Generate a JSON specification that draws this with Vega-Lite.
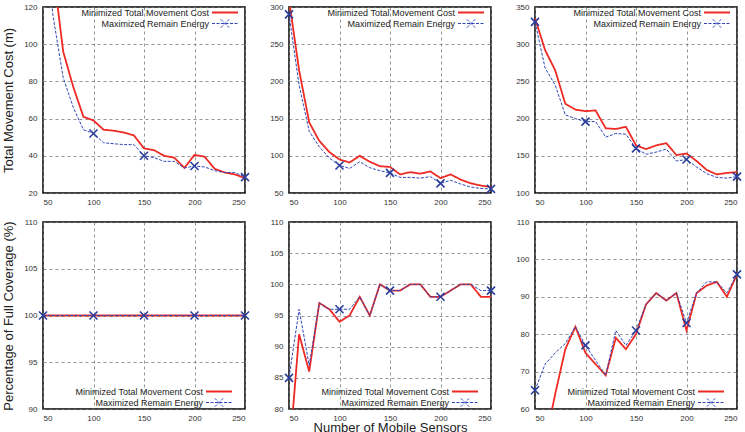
{
  "$schema": "https://vega.github.io/schema/vega-lite/v6.json",
  "background": "white",
  "padding": {"left": 1, "top": 2, "right": 5, "bottom": 0},
  "bounds": "flush",
  "columns": 3,
  "spacing": {"row": 29, "column": 44},
  "datasets": {
    "p1": [
      {"n": 50, "Minimized Total Movement Cost": 200, "Maximized Remain Energy": 160},
      {"n": 60, "Minimized Total Movement Cost": 140, "Maximized Remain Energy": 115},
      {"n": 70, "Minimized Total Movement Cost": 96, "Maximized Remain Energy": 82},
      {"n": 80, "Minimized Total Movement Cost": 77, "Maximized Remain Energy": 66},
      {"n": 90, "Minimized Total Movement Cost": 61, "Maximized Remain Energy": 54},
      {"n": 100, "Minimized Total Movement Cost": 59, "Maximized Remain Energy": 52},
      {"n": 110, "Minimized Total Movement Cost": 54, "Maximized Remain Energy": 47},
      {"n": 120, "Minimized Total Movement Cost": 53.5, "Maximized Remain Energy": 46.5},
      {"n": 130, "Minimized Total Movement Cost": 52.5, "Maximized Remain Energy": 46},
      {"n": 140, "Minimized Total Movement Cost": 51, "Maximized Remain Energy": 46},
      {"n": 150, "Minimized Total Movement Cost": 44, "Maximized Remain Energy": 40},
      {"n": 160, "Minimized Total Movement Cost": 43, "Maximized Remain Energy": 39},
      {"n": 170, "Minimized Total Movement Cost": 40, "Maximized Remain Energy": 37},
      {"n": 180, "Minimized Total Movement Cost": 39, "Maximized Remain Energy": 37},
      {"n": 190, "Minimized Total Movement Cost": 33.5, "Maximized Remain Energy": 33.5},
      {"n": 200, "Minimized Total Movement Cost": 40.5, "Maximized Remain Energy": 34.5},
      {"n": 210, "Minimized Total Movement Cost": 39.5, "Maximized Remain Energy": 34},
      {"n": 220, "Minimized Total Movement Cost": 33, "Maximized Remain Energy": 32},
      {"n": 230, "Minimized Total Movement Cost": 31, "Maximized Remain Energy": 31},
      {"n": 240, "Minimized Total Movement Cost": 30, "Maximized Remain Energy": 31},
      {"n": 250, "Minimized Total Movement Cost": 28, "Maximized Remain Energy": 28.5}
    ],
    "p2": [
      {"n": 50, "Minimized Total Movement Cost": 310, "Maximized Remain Energy": 290},
      {"n": 60, "Minimized Total Movement Cost": 215, "Maximized Remain Energy": 195},
      {"n": 70, "Minimized Total Movement Cost": 145, "Maximized Remain Energy": 133},
      {"n": 80, "Minimized Total Movement Cost": 120, "Maximized Remain Energy": 112},
      {"n": 90, "Minimized Total Movement Cost": 105, "Maximized Remain Energy": 97},
      {"n": 100, "Minimized Total Movement Cost": 95, "Maximized Remain Energy": 87},
      {"n": 110, "Minimized Total Movement Cost": 91, "Maximized Remain Energy": 83},
      {"n": 120, "Minimized Total Movement Cost": 100, "Maximized Remain Energy": 92},
      {"n": 130, "Minimized Total Movement Cost": 92, "Maximized Remain Energy": 84},
      {"n": 140, "Minimized Total Movement Cost": 86, "Maximized Remain Energy": 80},
      {"n": 150, "Minimized Total Movement Cost": 85, "Maximized Remain Energy": 77},
      {"n": 160, "Minimized Total Movement Cost": 75, "Maximized Remain Energy": 71},
      {"n": 170, "Minimized Total Movement Cost": 78, "Maximized Remain Energy": 71},
      {"n": 180, "Minimized Total Movement Cost": 76, "Maximized Remain Energy": 70},
      {"n": 190, "Minimized Total Movement Cost": 79, "Maximized Remain Energy": 72},
      {"n": 200, "Minimized Total Movement Cost": 70, "Maximized Remain Energy": 63},
      {"n": 210, "Minimized Total Movement Cost": 75, "Maximized Remain Energy": 67},
      {"n": 220, "Minimized Total Movement Cost": 68, "Maximized Remain Energy": 62},
      {"n": 230, "Minimized Total Movement Cost": 63, "Maximized Remain Energy": 58},
      {"n": 240, "Minimized Total Movement Cost": 60, "Maximized Remain Energy": 56},
      {"n": 250, "Minimized Total Movement Cost": 58, "Maximized Remain Energy": 55.5}
    ],
    "p3": [
      {"n": 50, "Minimized Total Movement Cost": 335, "Maximized Remain Energy": 330},
      {"n": 60, "Minimized Total Movement Cost": 292, "Maximized Remain Energy": 268},
      {"n": 70, "Minimized Total Movement Cost": 265, "Maximized Remain Energy": 245},
      {"n": 80, "Minimized Total Movement Cost": 220, "Maximized Remain Energy": 205},
      {"n": 90, "Minimized Total Movement Cost": 212, "Maximized Remain Energy": 200},
      {"n": 100, "Minimized Total Movement Cost": 210, "Maximized Remain Energy": 196},
      {"n": 110, "Minimized Total Movement Cost": 211, "Maximized Remain Energy": 196},
      {"n": 120, "Minimized Total Movement Cost": 187, "Maximized Remain Energy": 175},
      {"n": 130, "Minimized Total Movement Cost": 186, "Maximized Remain Energy": 180},
      {"n": 140, "Minimized Total Movement Cost": 189, "Maximized Remain Energy": 179},
      {"n": 150, "Minimized Total Movement Cost": 164, "Maximized Remain Energy": 160},
      {"n": 160, "Minimized Total Movement Cost": 159, "Maximized Remain Energy": 152},
      {"n": 170, "Minimized Total Movement Cost": 164, "Maximized Remain Energy": 155},
      {"n": 180, "Minimized Total Movement Cost": 167, "Maximized Remain Energy": 159},
      {"n": 190, "Minimized Total Movement Cost": 151, "Maximized Remain Energy": 143},
      {"n": 200, "Minimized Total Movement Cost": 153, "Maximized Remain Energy": 145},
      {"n": 210, "Minimized Total Movement Cost": 143, "Maximized Remain Energy": 135},
      {"n": 220, "Minimized Total Movement Cost": 131, "Maximized Remain Energy": 126},
      {"n": 230, "Minimized Total Movement Cost": 125, "Maximized Remain Energy": 121},
      {"n": 240, "Minimized Total Movement Cost": 127, "Maximized Remain Energy": 120},
      {"n": 250, "Minimized Total Movement Cost": 128, "Maximized Remain Energy": 122}
    ],
    "p4": [
      {"n": 50, "Minimized Total Movement Cost": 100, "Maximized Remain Energy": 100},
      {"n": 60, "Minimized Total Movement Cost": 100, "Maximized Remain Energy": 100},
      {"n": 70, "Minimized Total Movement Cost": 100, "Maximized Remain Energy": 100},
      {"n": 80, "Minimized Total Movement Cost": 100, "Maximized Remain Energy": 100},
      {"n": 90, "Minimized Total Movement Cost": 100, "Maximized Remain Energy": 100},
      {"n": 100, "Minimized Total Movement Cost": 100, "Maximized Remain Energy": 100},
      {"n": 110, "Minimized Total Movement Cost": 100, "Maximized Remain Energy": 100},
      {"n": 120, "Minimized Total Movement Cost": 100, "Maximized Remain Energy": 100},
      {"n": 130, "Minimized Total Movement Cost": 100, "Maximized Remain Energy": 100},
      {"n": 140, "Minimized Total Movement Cost": 100, "Maximized Remain Energy": 100},
      {"n": 150, "Minimized Total Movement Cost": 100, "Maximized Remain Energy": 100},
      {"n": 160, "Minimized Total Movement Cost": 100, "Maximized Remain Energy": 100},
      {"n": 170, "Minimized Total Movement Cost": 100, "Maximized Remain Energy": 100},
      {"n": 180, "Minimized Total Movement Cost": 100, "Maximized Remain Energy": 100},
      {"n": 190, "Minimized Total Movement Cost": 100, "Maximized Remain Energy": 100},
      {"n": 200, "Minimized Total Movement Cost": 100, "Maximized Remain Energy": 100},
      {"n": 210, "Minimized Total Movement Cost": 100, "Maximized Remain Energy": 100},
      {"n": 220, "Minimized Total Movement Cost": 100, "Maximized Remain Energy": 100},
      {"n": 230, "Minimized Total Movement Cost": 100, "Maximized Remain Energy": 100},
      {"n": 240, "Minimized Total Movement Cost": 100, "Maximized Remain Energy": 100},
      {"n": 250, "Minimized Total Movement Cost": 100, "Maximized Remain Energy": 100}
    ],
    "p5": [
      {"n": 50, "Minimized Total Movement Cost": 72, "Maximized Remain Energy": 85},
      {"n": 60, "Minimized Total Movement Cost": 92, "Maximized Remain Energy": 96},
      {"n": 70, "Minimized Total Movement Cost": 86, "Maximized Remain Energy": 87},
      {"n": 80, "Minimized Total Movement Cost": 97, "Maximized Remain Energy": 97},
      {"n": 90, "Minimized Total Movement Cost": 96, "Maximized Remain Energy": 96},
      {"n": 100, "Minimized Total Movement Cost": 94, "Maximized Remain Energy": 96},
      {"n": 110, "Minimized Total Movement Cost": 95, "Maximized Remain Energy": 96},
      {"n": 120, "Minimized Total Movement Cost": 98, "Maximized Remain Energy": 98},
      {"n": 130, "Minimized Total Movement Cost": 95, "Maximized Remain Energy": 95},
      {"n": 140, "Minimized Total Movement Cost": 100, "Maximized Remain Energy": 100},
      {"n": 150, "Minimized Total Movement Cost": 99, "Maximized Remain Energy": 99},
      {"n": 160, "Minimized Total Movement Cost": 99, "Maximized Remain Energy": 99},
      {"n": 170, "Minimized Total Movement Cost": 100, "Maximized Remain Energy": 100},
      {"n": 180, "Minimized Total Movement Cost": 100, "Maximized Remain Energy": 100},
      {"n": 190, "Minimized Total Movement Cost": 98, "Maximized Remain Energy": 98},
      {"n": 200, "Minimized Total Movement Cost": 98, "Maximized Remain Energy": 98},
      {"n": 210, "Minimized Total Movement Cost": 99, "Maximized Remain Energy": 99},
      {"n": 220, "Minimized Total Movement Cost": 100, "Maximized Remain Energy": 100},
      {"n": 230, "Minimized Total Movement Cost": 100, "Maximized Remain Energy": 100},
      {"n": 240, "Minimized Total Movement Cost": 98, "Maximized Remain Energy": 99},
      {"n": 250, "Minimized Total Movement Cost": 98, "Maximized Remain Energy": 99}
    ],
    "p6": [
      {"n": 50, "Minimized Total Movement Cost": 40, "Maximized Remain Energy": 65},
      {"n": 60, "Minimized Total Movement Cost": 51, "Maximized Remain Energy": 72},
      {"n": 70, "Minimized Total Movement Cost": 64, "Maximized Remain Energy": 75},
      {"n": 80, "Minimized Total Movement Cost": 76, "Maximized Remain Energy": 77.5},
      {"n": 90, "Minimized Total Movement Cost": 82, "Maximized Remain Energy": 82},
      {"n": 100, "Minimized Total Movement Cost": 75, "Maximized Remain Energy": 77},
      {"n": 110, "Minimized Total Movement Cost": 72, "Maximized Remain Energy": 73},
      {"n": 120, "Minimized Total Movement Cost": 69, "Maximized Remain Energy": 69},
      {"n": 130, "Minimized Total Movement Cost": 79, "Maximized Remain Energy": 81},
      {"n": 140, "Minimized Total Movement Cost": 76, "Maximized Remain Energy": 77},
      {"n": 150, "Minimized Total Movement Cost": 80, "Maximized Remain Energy": 81},
      {"n": 160, "Minimized Total Movement Cost": 88, "Maximized Remain Energy": 88},
      {"n": 170, "Minimized Total Movement Cost": 91, "Maximized Remain Energy": 91},
      {"n": 180, "Minimized Total Movement Cost": 89, "Maximized Remain Energy": 89},
      {"n": 190, "Minimized Total Movement Cost": 91, "Maximized Remain Energy": 91},
      {"n": 200, "Minimized Total Movement Cost": 81, "Maximized Remain Energy": 83},
      {"n": 210, "Minimized Total Movement Cost": 91, "Maximized Remain Energy": 91},
      {"n": 220, "Minimized Total Movement Cost": 93, "Maximized Remain Energy": 94},
      {"n": 230, "Minimized Total Movement Cost": 94, "Maximized Remain Energy": 94},
      {"n": 240, "Minimized Total Movement Cost": 90, "Maximized Remain Energy": 91},
      {"n": 250, "Minimized Total Movement Cost": 96, "Maximized Remain Energy": 96}
    ]
  },
  "concat": [
    {
      "width": 202, "height": 186,
      "data": {"name": "p1"},
      "transform": [{"fold": ["Minimized Total Movement Cost", "Maximized Remain Energy"], "as": ["method", "value"]}],
      "encoding": {
        "x": {"field": "n", "type": "quantitative", "scale": {"domain": [50, 250], "nice": false}, "axis": {"values": [50, 100, 150, 200, 250], "title": null}},
        "y": {"field": "value", "type": "quantitative", "scale": {"domain": [20, 120], "nice": false, "zero": false}, "axis": {"values": [20, 40, 60, 80, 100, 120], "title": "Total Movement Cost (m)"}}
      },
      "layer": [
        {
          "mark": {"type": "line", "clip": true},
          "encoding": {
            "color": {"field": "method", "type": "nominal", "sort": null, "scale": {"domain": ["Minimized Total Movement Cost", "Maximized Remain Energy"], "range": ["#ee2a24", "#3046b8"]},
              "legend": {"orient": "top-right", "offset": 3, "encode": {"symbols": {"update": {"x": {"value": 13}, "y": {"value": 2.5}, "size": {"value": 676}, "shape": {"signal": "datum.value == 'Maximized Remain Energy' ? 'M-1,0L1,0M-0.32,-0.32L0.32,0.32M-0.32,0.32L0.32,-0.32' : 'M-1,0L1,0'"}, "strokeWidth": {"signal": "datum.value == 'Maximized Remain Energy' ? 1.3 : 2"}}}, "labels": {"update": {"x": {"value": -3}, "y": {"value": 2.5}}}}}},
            "strokeDash": {"field": "method", "type": "nominal", "sort": null, "scale": {"domain": ["Minimized Total Movement Cost", "Maximized Remain Energy"], "range": [[1, 0], [3, 1.5]]},
              "legend": {"orient": "top-right", "offset": 3, "encode": {"symbols": {"update": {"x": {"value": 13}, "y": {"value": 2.5}, "size": {"value": 676}, "shape": {"signal": "datum.value == 'Maximized Remain Energy' ? 'M-1,0L1,0M-0.32,-0.32L0.32,0.32M-0.32,0.32L0.32,-0.32' : 'M-1,0L1,0'"}, "strokeWidth": {"signal": "datum.value == 'Maximized Remain Energy' ? 1.3 : 2"}}}, "labels": {"update": {"x": {"value": -3}, "y": {"value": 2.5}}}}}},
            "strokeWidth": {"field": "method", "type": "nominal", "scale": {"domain": ["Minimized Total Movement Cost", "Maximized Remain Energy"], "range": [1.8, 1]}, "legend": null}
          }
        },
        {
          "transform": [{"filter": "datum.method == 'Maximized Remain Energy' && datum.n % 50 == 0 && datum.value <= 120"}],
          "mark": {"type": "point", "shape": "M-1,-1L1,1M-1,1L1,-1", "size": 64, "filled": false, "stroke": "#2a3d9c", "strokeWidth": 1.6, "opacity": 1}
        }
      ]
    },
    {
      "width": 202, "height": 186,
      "data": {"name": "p2"},
      "transform": [{"fold": ["Minimized Total Movement Cost", "Maximized Remain Energy"], "as": ["method", "value"]}],
      "encoding": {
        "x": {"field": "n", "type": "quantitative", "scale": {"domain": [50, 250], "nice": false}, "axis": {"values": [50, 100, 150, 200, 250], "title": null}},
        "y": {"field": "value", "type": "quantitative", "scale": {"domain": [50, 300], "nice": false, "zero": false}, "axis": {"values": [50, 100, 150, 200, 250, 300], "title": null}}
      },
      "layer": [
        {
          "mark": {"type": "line", "clip": true},
          "encoding": {
            "color": {"field": "method", "type": "nominal", "sort": null, "scale": {"domain": ["Minimized Total Movement Cost", "Maximized Remain Energy"], "range": ["#ee2a24", "#3046b8"]},
              "legend": {"orient": "top-right", "offset": 3, "encode": {"symbols": {"update": {"x": {"value": 13}, "y": {"value": 2.5}, "size": {"value": 676}, "shape": {"signal": "datum.value == 'Maximized Remain Energy' ? 'M-1,0L1,0M-0.32,-0.32L0.32,0.32M-0.32,0.32L0.32,-0.32' : 'M-1,0L1,0'"}, "strokeWidth": {"signal": "datum.value == 'Maximized Remain Energy' ? 1.3 : 2"}}}, "labels": {"update": {"x": {"value": -3}, "y": {"value": 2.5}}}}}},
            "strokeDash": {"field": "method", "type": "nominal", "sort": null, "scale": {"domain": ["Minimized Total Movement Cost", "Maximized Remain Energy"], "range": [[1, 0], [3, 1.5]]},
              "legend": {"orient": "top-right", "offset": 3, "encode": {"symbols": {"update": {"x": {"value": 13}, "y": {"value": 2.5}, "size": {"value": 676}, "shape": {"signal": "datum.value == 'Maximized Remain Energy' ? 'M-1,0L1,0M-0.32,-0.32L0.32,0.32M-0.32,0.32L0.32,-0.32' : 'M-1,0L1,0'"}, "strokeWidth": {"signal": "datum.value == 'Maximized Remain Energy' ? 1.3 : 2"}}}, "labels": {"update": {"x": {"value": -3}, "y": {"value": 2.5}}}}}},
            "strokeWidth": {"field": "method", "type": "nominal", "scale": {"domain": ["Minimized Total Movement Cost", "Maximized Remain Energy"], "range": [1.8, 1]}, "legend": null}
          }
        },
        {
          "transform": [{"filter": "datum.method == 'Maximized Remain Energy' && datum.n % 50 == 0"}],
          "mark": {"type": "point", "shape": "M-1,-1L1,1M-1,1L1,-1", "size": 64, "filled": false, "stroke": "#2a3d9c", "strokeWidth": 1.6, "opacity": 1}
        }
      ]
    },
    {
      "width": 202, "height": 186,
      "data": {"name": "p3"},
      "transform": [{"fold": ["Minimized Total Movement Cost", "Maximized Remain Energy"], "as": ["method", "value"]}],
      "encoding": {
        "x": {"field": "n", "type": "quantitative", "scale": {"domain": [50, 250], "nice": false}, "axis": {"values": [50, 100, 150, 200, 250], "title": null}},
        "y": {"field": "value", "type": "quantitative", "scale": {"domain": [100, 350], "nice": false, "zero": false}, "axis": {"values": [100, 150, 200, 250, 300, 350], "title": null}}
      },
      "layer": [
        {
          "mark": {"type": "line", "clip": true},
          "encoding": {
            "color": {"field": "method", "type": "nominal", "sort": null, "scale": {"domain": ["Minimized Total Movement Cost", "Maximized Remain Energy"], "range": ["#ee2a24", "#3046b8"]},
              "legend": {"orient": "top-right", "offset": 3, "encode": {"symbols": {"update": {"x": {"value": 13}, "y": {"value": 2.5}, "size": {"value": 676}, "shape": {"signal": "datum.value == 'Maximized Remain Energy' ? 'M-1,0L1,0M-0.32,-0.32L0.32,0.32M-0.32,0.32L0.32,-0.32' : 'M-1,0L1,0'"}, "strokeWidth": {"signal": "datum.value == 'Maximized Remain Energy' ? 1.3 : 2"}}}, "labels": {"update": {"x": {"value": -3}, "y": {"value": 2.5}}}}}},
            "strokeDash": {"field": "method", "type": "nominal", "sort": null, "scale": {"domain": ["Minimized Total Movement Cost", "Maximized Remain Energy"], "range": [[1, 0], [3, 1.5]]},
              "legend": {"orient": "top-right", "offset": 3, "encode": {"symbols": {"update": {"x": {"value": 13}, "y": {"value": 2.5}, "size": {"value": 676}, "shape": {"signal": "datum.value == 'Maximized Remain Energy' ? 'M-1,0L1,0M-0.32,-0.32L0.32,0.32M-0.32,0.32L0.32,-0.32' : 'M-1,0L1,0'"}, "strokeWidth": {"signal": "datum.value == 'Maximized Remain Energy' ? 1.3 : 2"}}}, "labels": {"update": {"x": {"value": -3}, "y": {"value": 2.5}}}}}},
            "strokeWidth": {"field": "method", "type": "nominal", "scale": {"domain": ["Minimized Total Movement Cost", "Maximized Remain Energy"], "range": [1.8, 1]}, "legend": null}
          }
        },
        {
          "transform": [{"filter": "datum.method == 'Maximized Remain Energy' && datum.n % 50 == 0"}],
          "mark": {"type": "point", "shape": "M-1,-1L1,1M-1,1L1,-1", "size": 64, "filled": false, "stroke": "#2a3d9c", "strokeWidth": 1.6, "opacity": 1}
        }
      ]
    },
    {
      "width": 202, "height": 187,
      "data": {"name": "p4"},
      "transform": [{"fold": ["Minimized Total Movement Cost", "Maximized Remain Energy"], "as": ["method", "value"]}],
      "encoding": {
        "x": {"field": "n", "type": "quantitative", "scale": {"domain": [50, 250], "nice": false}, "axis": {"values": [50, 100, 150, 200, 250], "title": null}},
        "y": {"field": "value", "type": "quantitative", "scale": {"domain": [90, 110], "nice": false, "zero": false}, "axis": {"values": [90, 95, 100, 105, 110], "title": "Percentage of Full Coverage (%)"}}
      },
      "layer": [
        {
          "mark": {"type": "line", "clip": true},
          "encoding": {
            "color": {"field": "method", "type": "nominal", "sort": null, "scale": {"domain": ["Minimized Total Movement Cost", "Maximized Remain Energy"], "range": ["#ee2a24", "#3046b8"]},
              "legend": {"orient": "bottom-right", "offset": 0.5, "encode": {"symbols": {"update": {"x": {"value": 13}, "y": {"value": 2.5}, "size": {"value": 676}, "shape": {"signal": "datum.value == 'Maximized Remain Energy' ? 'M-1,0L1,0M-0.32,-0.32L0.32,0.32M-0.32,0.32L0.32,-0.32M1.7,0' : 'M-1,0L1,0M1.7,0'"}, "strokeWidth": {"signal": "datum.value == 'Maximized Remain Energy' ? 1.3 : 2"}}}, "labels": {"update": {"x": {"value": -3}, "y": {"value": 2.5}}}}}},
            "strokeDash": {"field": "method", "type": "nominal", "sort": null, "scale": {"domain": ["Minimized Total Movement Cost", "Maximized Remain Energy"], "range": [[1, 0], [3, 1.5]]},
              "legend": {"orient": "bottom-right", "offset": 0.5, "encode": {"symbols": {"update": {"x": {"value": 13}, "y": {"value": 2.5}, "size": {"value": 676}, "shape": {"signal": "datum.value == 'Maximized Remain Energy' ? 'M-1,0L1,0M-0.32,-0.32L0.32,0.32M-0.32,0.32L0.32,-0.32M1.7,0' : 'M-1,0L1,0M1.7,0'"}, "strokeWidth": {"signal": "datum.value == 'Maximized Remain Energy' ? 1.3 : 2"}}}, "labels": {"update": {"x": {"value": -3}, "y": {"value": 2.5}}}}}},
            "strokeWidth": {"field": "method", "type": "nominal", "scale": {"domain": ["Minimized Total Movement Cost", "Maximized Remain Energy"], "range": [1.8, 1]}, "legend": null}
          }
        },
        {
          "transform": [{"filter": "datum.method == 'Maximized Remain Energy' && datum.n % 50 == 0"}],
          "mark": {"type": "point", "shape": "M-1,-1L1,1M-1,1L1,-1", "size": 64, "filled": false, "stroke": "#2a3d9c", "strokeWidth": 1.6, "opacity": 1}
        }
      ]
    },
    {
      "width": 202, "height": 187,
      "data": {"name": "p5"},
      "transform": [{"fold": ["Minimized Total Movement Cost", "Maximized Remain Energy"], "as": ["method", "value"]}],
      "encoding": {
        "x": {"field": "n", "type": "quantitative", "scale": {"domain": [50, 250], "nice": false}, "axis": {"values": [50, 100, 150, 200, 250], "title": "Number of Mobile Sensors"}},
        "y": {"field": "value", "type": "quantitative", "scale": {"domain": [80, 110], "nice": false, "zero": false}, "axis": {"values": [80, 85, 90, 95, 100, 105, 110], "title": null}}
      },
      "layer": [
        {
          "mark": {"type": "line", "clip": true},
          "encoding": {
            "color": {"field": "method", "type": "nominal", "sort": null, "scale": {"domain": ["Minimized Total Movement Cost", "Maximized Remain Energy"], "range": ["#ee2a24", "#3046b8"]},
              "legend": {"orient": "bottom-right", "offset": 0.5, "encode": {"symbols": {"update": {"x": {"value": 13}, "y": {"value": 2.5}, "size": {"value": 676}, "shape": {"signal": "datum.value == 'Maximized Remain Energy' ? 'M-1,0L1,0M-0.32,-0.32L0.32,0.32M-0.32,0.32L0.32,-0.32M1.7,0' : 'M-1,0L1,0M1.7,0'"}, "strokeWidth": {"signal": "datum.value == 'Maximized Remain Energy' ? 1.3 : 2"}}}, "labels": {"update": {"x": {"value": -3}, "y": {"value": 2.5}}}}}},
            "strokeDash": {"field": "method", "type": "nominal", "sort": null, "scale": {"domain": ["Minimized Total Movement Cost", "Maximized Remain Energy"], "range": [[1, 0], [3, 1.5]]},
              "legend": {"orient": "bottom-right", "offset": 0.5, "encode": {"symbols": {"update": {"x": {"value": 13}, "y": {"value": 2.5}, "size": {"value": 676}, "shape": {"signal": "datum.value == 'Maximized Remain Energy' ? 'M-1,0L1,0M-0.32,-0.32L0.32,0.32M-0.32,0.32L0.32,-0.32M1.7,0' : 'M-1,0L1,0M1.7,0'"}, "strokeWidth": {"signal": "datum.value == 'Maximized Remain Energy' ? 1.3 : 2"}}}, "labels": {"update": {"x": {"value": -3}, "y": {"value": 2.5}}}}}},
            "strokeWidth": {"field": "method", "type": "nominal", "scale": {"domain": ["Minimized Total Movement Cost", "Maximized Remain Energy"], "range": [1.8, 1]}, "legend": null}
          }
        },
        {
          "transform": [{"filter": "datum.method == 'Maximized Remain Energy' && datum.n % 50 == 0"}],
          "mark": {"type": "point", "shape": "M-1,-1L1,1M-1,1L1,-1", "size": 64, "filled": false, "stroke": "#2a3d9c", "strokeWidth": 1.6, "opacity": 1}
        }
      ]
    },
    {
      "width": 202, "height": 187,
      "data": {"name": "p6"},
      "transform": [{"fold": ["Minimized Total Movement Cost", "Maximized Remain Energy"], "as": ["method", "value"]}],
      "encoding": {
        "x": {"field": "n", "type": "quantitative", "scale": {"domain": [50, 250], "nice": false}, "axis": {"values": [50, 100, 150, 200, 250], "title": null}},
        "y": {"field": "value", "type": "quantitative", "scale": {"domain": [60, 110], "nice": false, "zero": false}, "axis": {"values": [60, 70, 80, 90, 100, 110], "title": null}}
      },
      "layer": [
        {
          "mark": {"type": "line", "clip": true},
          "encoding": {
            "color": {"field": "method", "type": "nominal", "sort": null, "scale": {"domain": ["Minimized Total Movement Cost", "Maximized Remain Energy"], "range": ["#ee2a24", "#3046b8"]},
              "legend": {"orient": "bottom-right", "offset": 0.5, "encode": {"symbols": {"update": {"x": {"value": 13}, "y": {"value": 2.5}, "size": {"value": 676}, "shape": {"signal": "datum.value == 'Maximized Remain Energy' ? 'M-1,0L1,0M-0.32,-0.32L0.32,0.32M-0.32,0.32L0.32,-0.32M1.7,0' : 'M-1,0L1,0M1.7,0'"}, "strokeWidth": {"signal": "datum.value == 'Maximized Remain Energy' ? 1.3 : 2"}}}, "labels": {"update": {"x": {"value": -3}, "y": {"value": 2.5}}}}}},
            "strokeDash": {"field": "method", "type": "nominal", "sort": null, "scale": {"domain": ["Minimized Total Movement Cost", "Maximized Remain Energy"], "range": [[1, 0], [3, 1.5]]},
              "legend": {"orient": "bottom-right", "offset": 0.5, "encode": {"symbols": {"update": {"x": {"value": 13}, "y": {"value": 2.5}, "size": {"value": 676}, "shape": {"signal": "datum.value == 'Maximized Remain Energy' ? 'M-1,0L1,0M-0.32,-0.32L0.32,0.32M-0.32,0.32L0.32,-0.32M1.7,0' : 'M-1,0L1,0M1.7,0'"}, "strokeWidth": {"signal": "datum.value == 'Maximized Remain Energy' ? 1.3 : 2"}}}, "labels": {"update": {"x": {"value": -3}, "y": {"value": 2.5}}}}}},
            "strokeWidth": {"field": "method", "type": "nominal", "scale": {"domain": ["Minimized Total Movement Cost", "Maximized Remain Energy"], "range": [1.8, 1]}, "legend": null}
          }
        },
        {
          "transform": [{"filter": "datum.method == 'Maximized Remain Energy' && datum.n % 50 == 0"}],
          "mark": {"type": "point", "shape": "M-1,-1L1,1M-1,1L1,-1", "size": 64, "filled": false, "stroke": "#2a3d9c", "strokeWidth": 1.6, "opacity": 1}
        }
      ]
    }
  ],
  "resolve": {
    "scale": {"x": "independent", "y": "independent", "color": "independent", "strokeDash": "independent", "strokeWidth": "independent"},
    "legend": {"color": "independent", "strokeDash": "independent"}
  },
  "config": {
    "font": "Liberation Sans",
    "view": {"stroke": "#000000", "strokeWidth": 1.5},
    "axis": {
      "grid": true, "gridColor": "#7a7a7a", "gridDash": [3, 3], "gridWidth": 0.8,
      "domain": false, "ticks": false,
      "labelFontSize": 8, "labelColor": "#333333", "labelPadding": 6,
      "titleFontSize": 13, "titleFontWeight": "normal", "titleColor": "#222222", "titlePadding": 8
    },
    "axisX": {"labelPadding": 5, "titlePadding": -1},
    "legend": {
      "title": null,
      "columns": 1,
      "symbolType": "stroke",
      "symbolSize": 676,
      "symbolStrokeWidth": 1.6,
      "rowPadding": -1,
      "labelAlign": "right",
      "labelOffset": -31,
      "labelFontSize": 9,
      "labelColor": "#222222",
      "labelLimit": 200,
      "padding": 0,
      "symbolOpacity": 1
    }
  }
}
